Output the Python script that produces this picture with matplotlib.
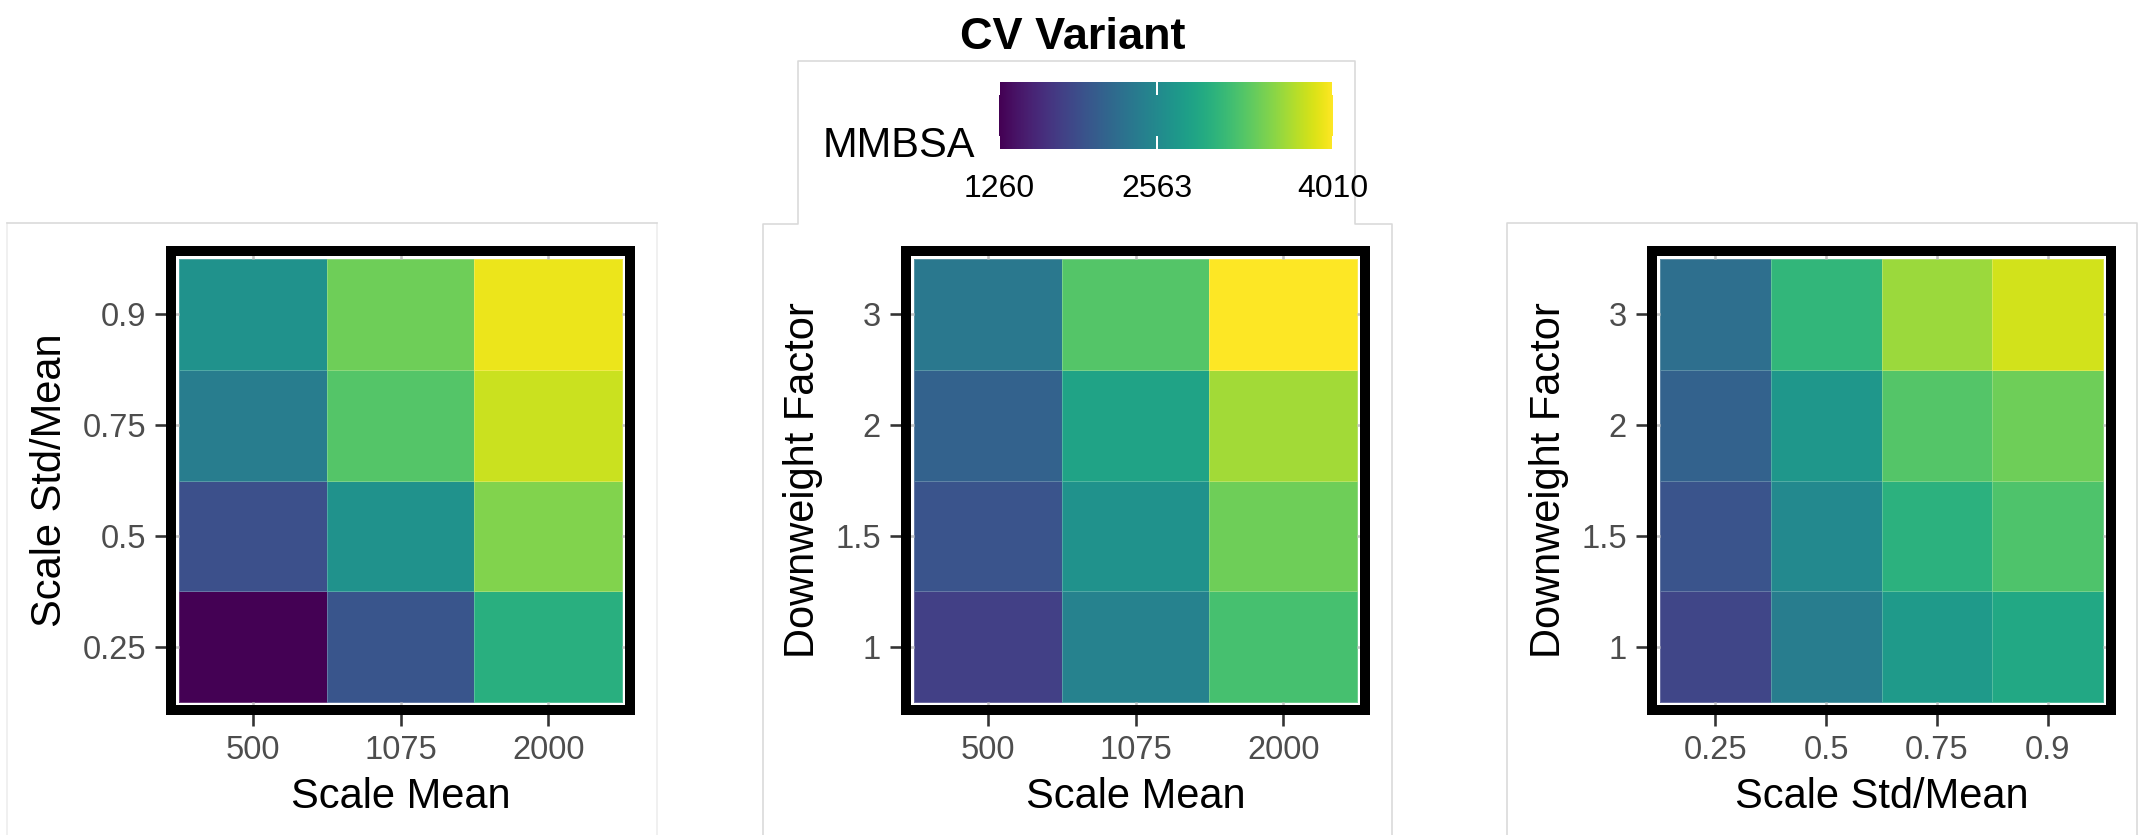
import numpy as np
import matplotlib
matplotlib.use("Agg")
import matplotlib.pyplot as plt
from matplotlib.lines import Line2D
from matplotlib.ticker import FixedLocator

plt.rcParams["font.family"] = ["Liberation Sans", "DejaVu Sans"]

# ---- data -------------------------------------------------------------
scale_mean = ["500", "1075", "2000"]
scale_std_mean = ["0.25", "0.5", "0.75", "0.9"]
downweight_factor = ["1", "1.5", "2", "3"]

# rows follow the y categories (bottom -> top), columns the x categories
mmbsa_std_by_mean = [
    [1260, 1990, 3000],   # std/mean 0.25
    [1930, 2660, 3490],   # 0.5
    [2415, 3270, 3790],   # 0.75
    [2660, 3400, 3930],   # 0.9
]
mmbsa_dw_by_mean = [
    [1785, 2470, 3200],   # downweight 1
    [1975, 2660, 3405],   # 1.5
    [2115, 2855, 3625],   # 2
    [2360, 3270, 4010],   # 3
]
mmbsa_dw_by_std = [
    [1840, 2415, 2745, 2910],   # downweight 1
    [1975, 2555, 3020, 3240],   # 1.5
    [2115, 2720, 3270, 3405],   # 2
    [2250, 3075, 3600, 3820],   # 3
]
legend_breaks = [1260, 2563, 4010]

VMIN, VMAX = 1260, 4010
CMAP = "viridis"

# ---- layout helpers (pixel based) ------------------------------------
W, H = 2144, 835
fig = plt.figure(figsize=(W / 100, H / 100), dpi=100)


def fx(px):
    return px / W


def fy(py):
    return 1 - py / H


def pt(px):
    return px * 72 / 100


FRAME = 10    # thickness of the black panel border (px)
GAP = 3       # white gap between border and tiles (px)
SIZE = 469    # outer size of each square panel (px)
TOP = 246

TICK_DARK = "#333333"
TICK_LIGHT = "#C4C4C4"
LABEL_GREY = "#4D4D4D"
TICK_FS = 23.5
TITLE_FS = 30


def heat_panel(left_px, xcats, ycats, values, xlabel, ylabel):
    ax = fig.add_axes([fx(left_px), fy(TOP + SIZE), SIZE / W, SIZE / H])
    vals = np.asarray(values, dtype=float)
    nx, ny = len(xcats), len(ycats)
    inset = FRAME + GAP
    mx = inset * nx / (SIZE - 2 * inset)
    my = inset * ny / (SIZE - 2 * inset)
    ax.pcolormesh(np.arange(nx + 1) - 0.5, np.arange(ny + 1) - 0.5, vals,
                  cmap=CMAP, vmin=VMIN, vmax=VMAX,
                  edgecolors=(1, 1, 1, 0.22), linewidth=0.6)
    ax.set_xlim(-0.5 - mx, nx - 0.5 + mx)
    ax.set_ylim(-0.5 - my, ny - 0.5 + my)

    for sp in ax.spines.values():
        sp.set_linewidth(pt(FRAME))
        sp.set_color("black")
        sp.set_capstyle("butt")
        sp.set_position(("outward", -pt(FRAME / 2)))

    for axis, cats in ((ax.xaxis, xcats), (ax.yaxis, ycats)):
        axis.set_major_locator(FixedLocator(range(len(cats))))
        axis.set_minor_locator(FixedLocator(range(len(cats))))
        axis.remove_overlapping_locs = False
    ax.set_xticklabels(xcats)
    ax.set_yticklabels(ycats)

    ax.tick_params(which="major", direction="out", length=pt(FRAME / 2 + 11),
                   width=pt(2.6), color=TICK_DARK, labelsize=TICK_FS,
                   labelcolor=LABEL_GREY, pad=6.5,
                   bottom=True, left=True, top=False, right=False)
    ax.tick_params(which="minor", direction="in", length=pt(FRAME / 2 + GAP),
                   width=pt(2.6), color=TICK_LIGHT,
                   bottom=True, left=True, top=True, right=True)

    ax.set_xlabel(xlabel, fontsize=TITLE_FS, color="black", labelpad=8)
    ax.set_ylabel(ylabel, fontsize=TITLE_FS, color="black", labelpad=9)
    return ax


heat_panel(166, scale_mean, scale_std_mean, mmbsa_std_by_mean,
           "Scale Mean", "Scale Std/Mean")
heat_panel(901, scale_mean, downweight_factor, mmbsa_dw_by_mean,
           "Scale Mean", "Downweight Factor")
heat_panel(1647, scale_std_mean, downweight_factor, mmbsa_dw_by_std,
           "Scale Std/Mean", "Downweight Factor")

# ---- colour legend ---------------------------------------------------
BAR_L, BAR_R, BAR_T, BAR_B = 999, 1333, 82, 149
cax = fig.add_axes([fx(BAR_L), fy(BAR_B), (BAR_R - BAR_L) / W, (BAR_B - BAR_T) / H])
grad = np.linspace(VMIN, VMAX, 600)[None, :]
cax.imshow(grad, aspect="auto", cmap=CMAP, vmin=VMIN, vmax=VMAX,
           extent=[VMIN, VMAX, 0, 1], interpolation="bilinear")
cax.set_xlim(VMIN, VMAX)
cax.set_ylim(0, 1)
cax.set_yticks([])
for sp in cax.spines.values():
    sp.set_visible(False)
cax.set_xticks(legend_breaks)
cax.set_xticklabels([str(b) for b in legend_breaks])
cax.tick_params(axis="x", direction="in", length=pt((BAR_B - BAR_T) / 5),
                width=pt(2), color="white", top=True, bottom=True,
                labelsize=23, labelcolor="black", pad=18)

fig.text(fx(975), fy(157), "MMBSA", ha="right", va="baseline",
         fontsize=30, color="black")

fig.text(fx(1073), fy(49), "CV Variant", ha="center", va="baseline",
         fontsize=32.5, fontweight="bold", color="black")

# ---- light outlines around each plot region ---------------------------
BORDER = "#D9D9D9"
BORDER_FAINT = "#EDEDED"
outlines = [
    ([7, 7], [840, 223], BORDER_FAINT),
    ([657, 657], [223, 840], BORDER_FAINT),
    ([7, 657], [223, 223], BORDER),
    ([763, 763, 798, 798, 1355, 1355, 1392, 1392],
     [840, 224, 224, 61, 61, 224, 224, 840], BORDER),
    ([1507, 1507, 2137, 2137], [840, 223, 223, 840], BORDER),
]
for xs, ys, col in outlines:
    fig.add_artist(Line2D([fx(v) for v in xs], [fy(v) for v in ys],
                          color=col, linewidth=pt(1.6),
                          transform=fig.transFigure, zorder=0))

fig.savefig("out.png", dpi=100)
